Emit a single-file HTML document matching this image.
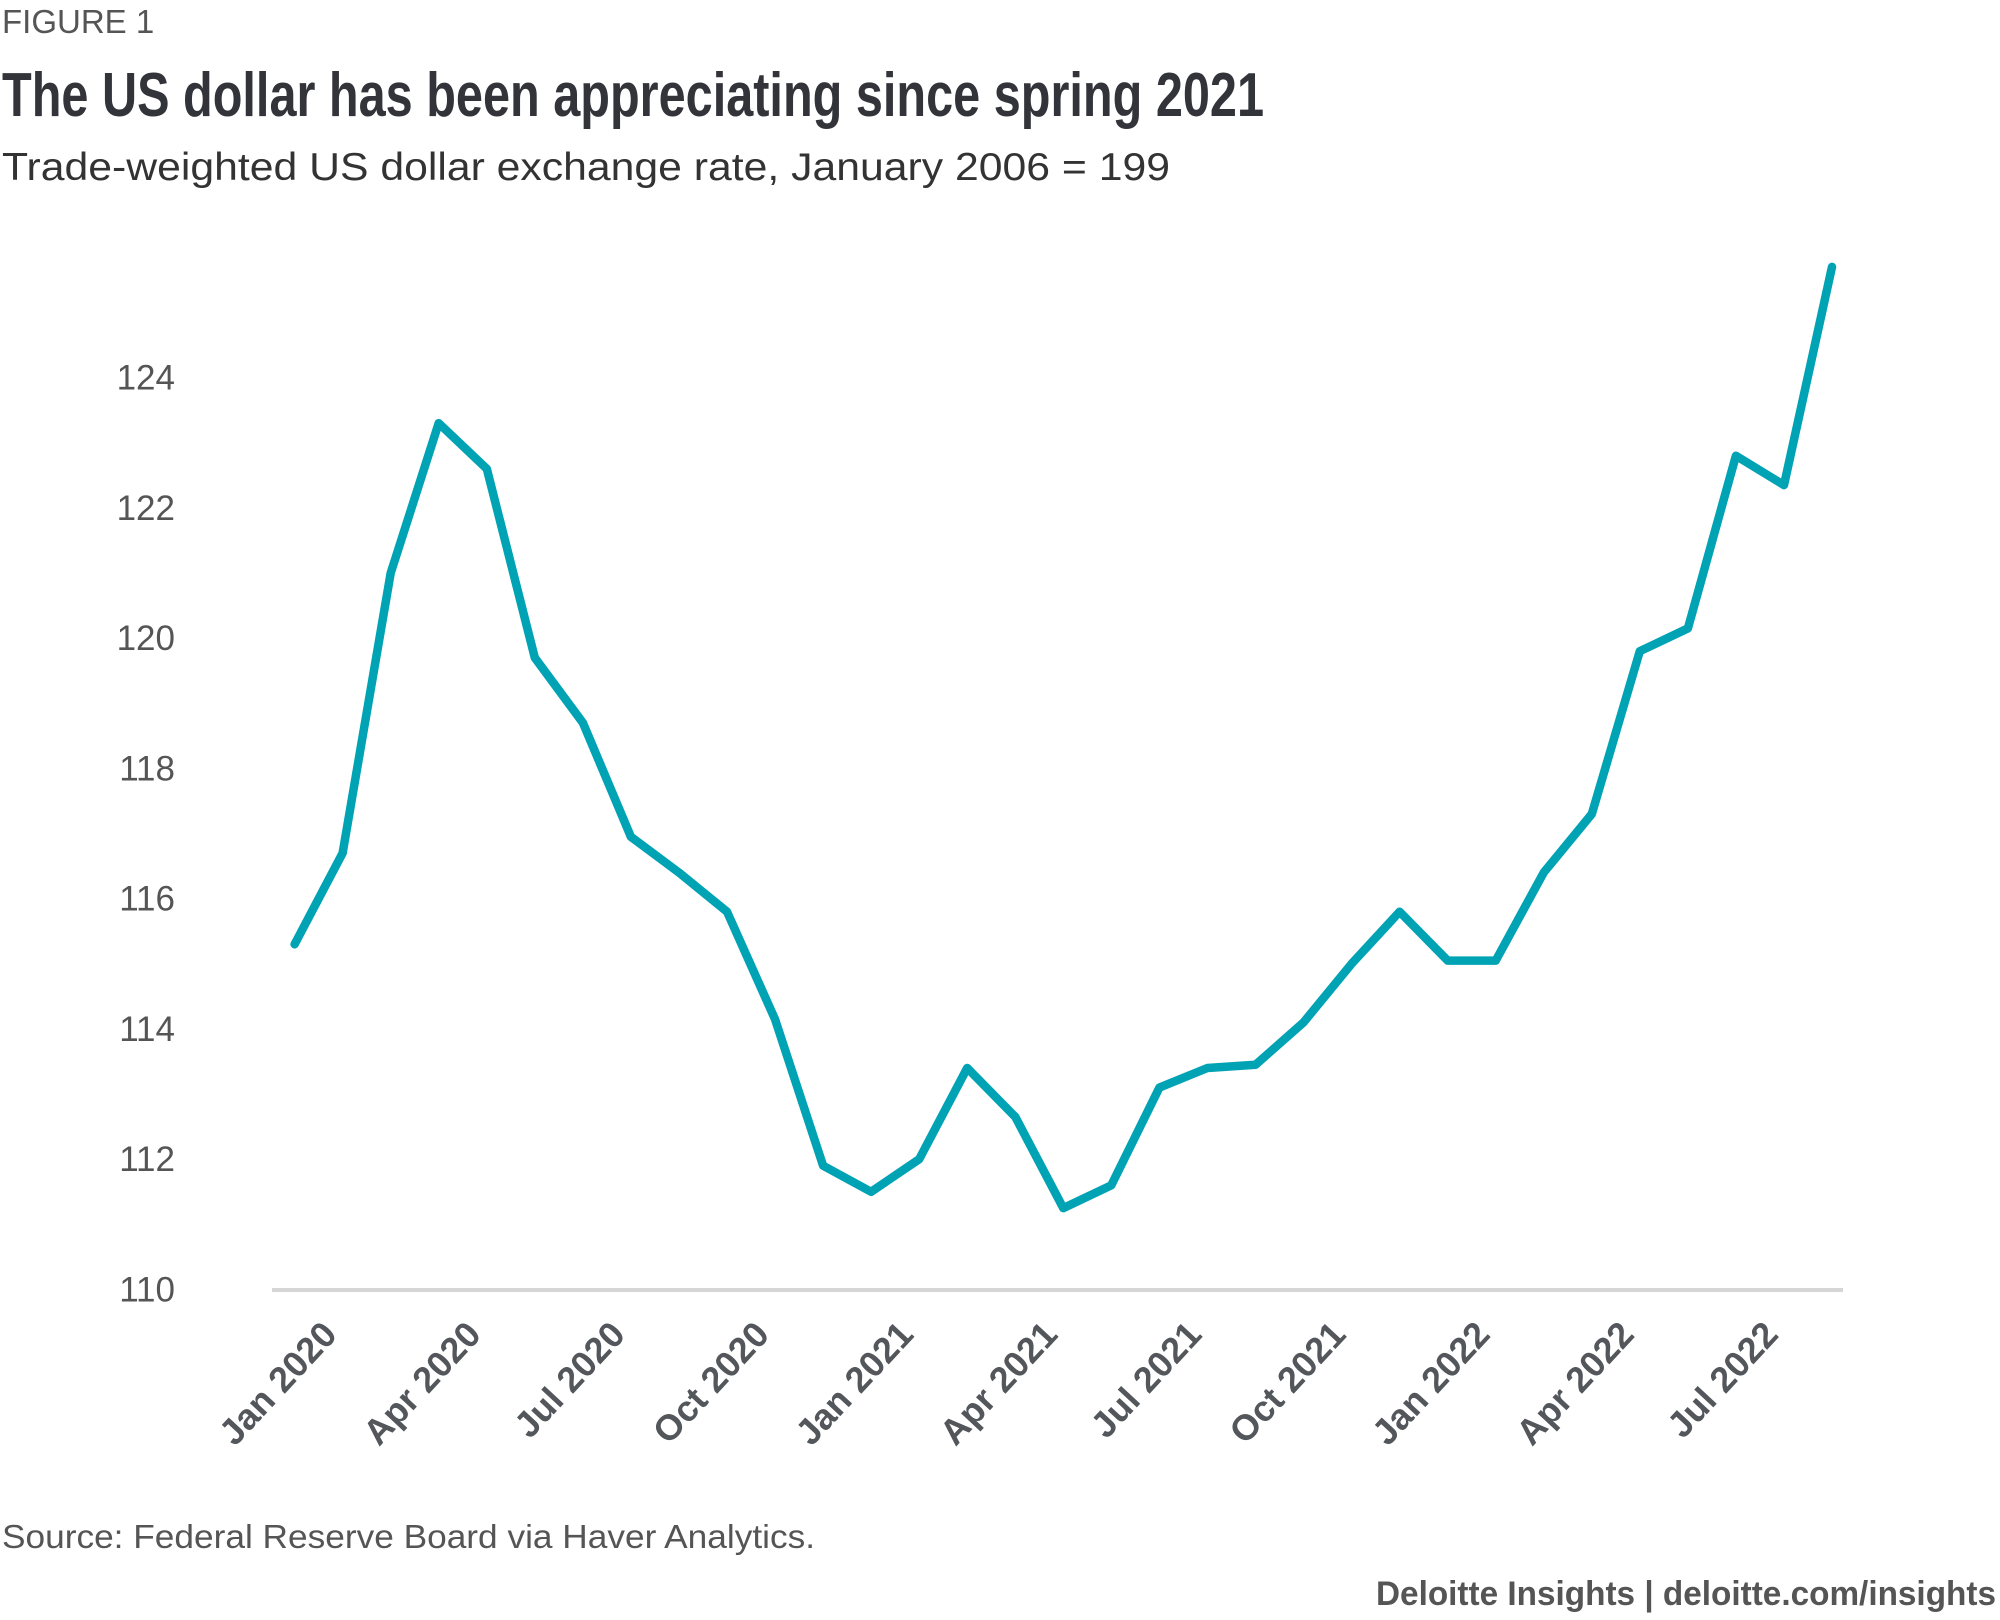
<!DOCTYPE html>
<html><head><meta charset="utf-8"><style>
html,body{margin:0;padding:0;background:#fff;}
svg{display:block;}
</style></head><body>
<svg id="chart" width="2000" height="1620" viewBox="0 0 2000 1620" xmlns="http://www.w3.org/2000/svg">
<text x="2" y="33" font-family="Liberation Sans Narrow, Liberation Sans, sans-serif" font-size="33" fill="#555">FIGURE 1</text>
<text x="2" y="116" font-family="Liberation Sans Narrow, Liberation Sans, sans-serif" font-weight="bold" font-size="62" fill="#33343a" textLength="1262" lengthAdjust="spacingAndGlyphs">The US dollar has been appreciating since spring 2021</text>
<text x="2" y="180" font-family="Liberation Sans, sans-serif" font-size="39" fill="#333" textLength="1168" lengthAdjust="spacingAndGlyphs">Trade-weighted US dollar exchange rate, January 2006 = 199</text>
<line x1="272" y1="1290" x2="1843" y2="1290" stroke="#d6d6d6" stroke-width="4"/>
<g id="yaxis"></g>
<g id="xaxis"></g>
<g id="series"></g>
<text x="2" y="1548" font-family="Liberation Sans, sans-serif" font-size="33" fill="#555" textLength="813" lengthAdjust="spacingAndGlyphs">Source: Federal Reserve Board via Haver Analytics.</text>
<text x="1996" y="1605" text-anchor="end" font-family="Liberation Sans Narrow, Liberation Sans, sans-serif" font-weight="bold" font-size="34" fill="#555" textLength="620" lengthAdjust="spacingAndGlyphs">Deloitte Insights | deloitte.com/insights</text>
</svg>
<script>
const values = [115.3,116.7,121.0,123.3,122.6,119.7,118.7,116.95,116.4,115.8,114.15,111.9,111.5,112.0,113.4,112.65,111.25,111.6,113.1,113.4,113.45,114.1,115.0,115.8,115.05,115.05,116.4,117.3,119.8,120.15,122.8,122.35,125.7];
const yTicks = [110,112,114,116,118,120,122,124];
const xTickLabels = ["Jan 2020","Apr 2020","Jul 2020","Oct 2020","Jan 2021","Apr 2021","Jul 2021","Oct 2021","Jan 2022","Apr 2022","Jul 2022"];
const xTickIndex = [0,3,6,9,12,15,18,21,24,27,30];

const NS = "http://www.w3.org/2000/svg";
const x0 = 294.6, step = (1832 - 294.6) / 32;
const yBase = 1289.5, yTop = 377.6;
function xScale(i){ return x0 + i * step; }
function yScale(v){ return yBase - (v - 110) / 14 * (yBase - yTop); }

const yg = document.getElementById('yaxis');
yTicks.forEach(t => {
  const el = document.createElementNS(NS, 'text');
  
  
  el.setAttribute('x', 175);
  el.setAttribute('y', yScale(t) + 12);
  el.setAttribute('text-anchor', 'end');
  el.setAttribute('font-family', 'Liberation Sans, sans-serif');
  el.setAttribute('font-size', '35');
  el.setAttribute('fill', '#555');
  el.textContent = t;
  yg.appendChild(el);
});

const xg = document.getElementById('xaxis');
xTickLabels.forEach((lab, k) => {
  const x = xScale(xTickIndex[k]) + 44, y = 1336;
  const el = document.createElementNS(NS, 'text');
  
  
  el.setAttribute('x', x);
  el.setAttribute('y', y);
  el.setAttribute('text-anchor', 'end');
  el.setAttribute('transform', 'rotate(-47 ' + x + ' ' + y + ')');
  el.setAttribute('font-family', 'Liberation Sans Narrow, Liberation Sans, sans-serif');
  el.setAttribute('font-weight', 'bold');
  el.setAttribute('font-size', '36');
  el.setAttribute('fill', '#53565a');
  el.textContent = lab;
  xg.appendChild(el);
});

const sg = document.getElementById('series');
const path = document.createElementNS(NS, 'polyline');


path.setAttribute('points', values.map((v, i) => xScale(i).toFixed(1) + ',' + yScale(v).toFixed(1)).join(' '));
path.setAttribute('fill', 'none');
path.setAttribute('stroke', '#00a3b4');
path.setAttribute('stroke-width', '8.5');
path.setAttribute('stroke-linejoin', 'round');
path.setAttribute('stroke-linecap', 'round');
sg.appendChild(path);
</script>
</body></html>
